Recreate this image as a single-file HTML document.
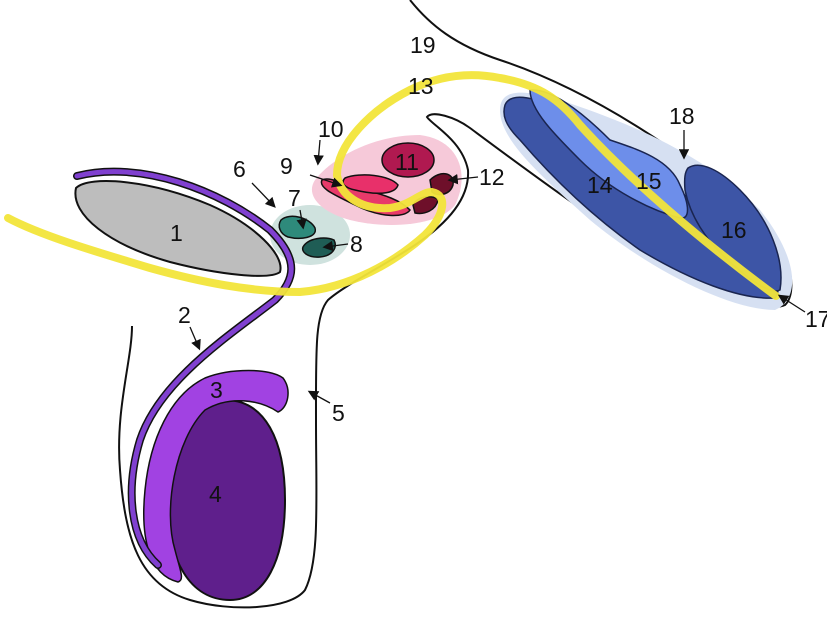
<!DOCTYPE html>
<html><head><style>
html,body{margin:0;padding:0;background:#fff;width:827px;height:620px;overflow:hidden}
svg text{font-family:"Liberation Sans",sans-serif;font-size:23px;fill:#111}
</style></head><body>
<svg width="827" height="620" viewBox="0 0 827 620" xmlns="http://www.w3.org/2000/svg">
<defs><marker id="a" markerWidth="8" markerHeight="8" refX="6" refY="4" orient="auto"><path d="M0,0 L8,4 L0,8z" fill="#111"/></marker></defs>
<rect width="827" height="620" fill="#fff"/>
<path d="M410,0 C430,25 455,45 500,60 C560,80 640,120 740,200 C790,240 800,290 785,305 C770,312 740,300 690,275 C620,240 540,180 470,128 C455,117 432,110 427,117 C432,125 462,140 468,170 C470,200 445,225 415,245 C385,265 345,285 328,300 C315,315 316,350 316,420 C316,500 320,560 305,590 C290,610 230,612 190,600 C140,585 125,540 120,470 C115,410 132,360 132,326" fill="none" stroke="#111" stroke-width="2"/>
<path d="M500,110 C500,90 520,88 560,100 C620,120 700,150 760,210 C800,260 800,300 775,310 C730,310 650,270 590,220 C540,175 500,140 500,110z" fill="#d6e0f2"/>
<ellipse cx="310" cy="235" rx="40" ry="30" fill="#cfe2de"/>
<path d="M315,180 C330,160 370,135 420,135 C460,140 470,175 455,205 C440,225 390,230 350,220 C320,212 305,195 315,180z" fill="#f6c9d9"/>
<path d="M505,105 C510,93 530,95 560,110 C610,135 680,190 740,240 C770,265 785,285 775,298 C740,300 690,280 640,250 C590,215 550,175 520,140 C505,125 502,115 505,105z" fill="#3d55a6" stroke="#1a2550" stroke-width="1.5"/>
<path d="M530,90 C550,88 580,110 610,140 C640,150 670,160 680,185 C690,205 690,220 680,218 C650,210 610,190 580,160 C555,135 530,110 530,90z" fill="#6d8eea" stroke="#1a2550" stroke-width="1.5"/>
<path d="M688,168 C700,160 720,170 740,190 C770,220 785,260 780,290 C770,295 750,280 730,262 C705,240 690,215 685,190 C684,178 685,172 688,168z" fill="#3d55a6" stroke="#1a2550" stroke-width="1.5"/>
<path d="M76,188 C90,175 150,180 210,205 C255,225 285,255 280,272 C270,280 220,275 170,262 C110,245 70,215 76,188z" fill="#bdbdbd" stroke="#111" stroke-width="2"/>
<path d="M225,400 C265,400 285,440 285,500 C285,560 265,600 230,600 C190,600 167,560 167,500 C167,440 185,400 225,400z" fill="#5f1f8c" stroke="#111" stroke-width="2"/>
<path d="M205,378 C230,368 270,368 283,378 C292,390 288,408 278,412 C260,400 230,395 205,410 C175,440 163,510 175,550 C180,570 185,580 178,582 C150,575 140,540 145,490 C150,440 170,395 205,378z" fill="#a142e2" stroke="#111" stroke-width="1.5"/>
<path d="M77,176 C140,160 220,190 270,230 C300,260 295,280 275,300 C230,335 160,380 140,440 C125,490 130,540 158,565" fill="none" stroke="#111" stroke-width="8" stroke-linecap="round"/>
<path d="M77,176 C140,160 220,190 270,230 C300,260 295,280 275,300 C230,335 160,380 140,440 C125,490 130,540 158,565" fill="none" stroke="#8040d0" stroke-width="5" stroke-linecap="round"/>
<path d="M281,220 C290,212 310,218 315,228 C318,238 300,240 288,237 C280,234 277,226 281,220z" fill="#2e8a7b" stroke="#111" stroke-width="1.5"/>
<path d="M303,247 C308,238 325,236 334,240 C338,248 332,256 320,257 C308,258 301,252 303,247z" fill="#1f5d55" stroke="#111" stroke-width="1.5"/>
<ellipse cx="408" cy="160" rx="26" ry="17" fill="#b01950" stroke="#111" stroke-width="1.5"/>
<path d="M322,180 C330,176 345,185 365,190 C385,195 400,200 410,210 C405,218 380,218 355,205 C335,195 318,188 322,180z" fill="#e83a6a" stroke="#111" stroke-width="1.5"/>
<path d="M345,178 C360,172 390,175 398,185 C395,195 375,195 355,190 C345,188 340,183 345,178z" fill="#e8306a" stroke="#111" stroke-width="1.5"/>
<path d="M430,180 C440,170 455,172 453,185 C450,195 438,197 432,192z" fill="#6e0f2a" stroke="#111" stroke-width="1.5"/>
<path d="M413,205 C418,195 435,195 438,200 C436,210 425,215 415,213z" fill="#6e0f2a" stroke="#111" stroke-width="1.5"/>
<path d="M8,218 C40,235 90,250 150,268 C200,282 250,292 300,292 C350,288 395,262 425,235 C445,215 448,195 432,192 C420,192 412,205 390,208 C360,210 340,195 337,175 C337,145 370,110 410,90 C440,75 470,72 500,78 C540,85 560,100 580,125 C630,180 700,240 776,296" fill="none" stroke="#f2e53a" stroke-width="8" stroke-linecap="round" opacity="0.95"/>
<g stroke="#111" stroke-width="1.3" fill="none">
<line x1="252" y1="183" x2="274" y2="206" marker-end="url(#a)"/>
<line x1="300" y1="210" x2="303" y2="227" marker-end="url(#a)"/>
<line x1="348" y1="244" x2="325" y2="247" marker-end="url(#a)"/>
<line x1="310" y1="175" x2="340" y2="185" marker-end="url(#a)"/>
<line x1="320" y1="140" x2="318" y2="163" marker-end="url(#a)"/>
<line x1="478" y1="177" x2="450" y2="180" marker-end="url(#a)"/>
<line x1="190" y1="327" x2="199" y2="348" marker-end="url(#a)"/>
<line x1="330" y1="403" x2="310" y2="392" marker-end="url(#a)"/>
<line x1="684" y1="130" x2="684" y2="157" marker-end="url(#a)"/>
<line x1="805" y1="312" x2="780" y2="296" marker-end="url(#a)"/>
</g>
<text x="410" y="53">19</text>
<text x="408" y="94">13</text>
<text x="318" y="137">10</text>
<text x="395" y="170">11</text>
<text x="479" y="185">12</text>
<text x="280" y="174">9</text>
<text x="233" y="177">6</text>
<text x="288" y="206">7</text>
<text x="350" y="252">8</text>
<text x="170" y="241">1</text>
<text x="178" y="323">2</text>
<text x="210" y="398">3</text>
<text x="209" y="502">4</text>
<text x="332" y="421">5</text>
<text x="587" y="193">14</text>
<text x="636" y="189">15</text>
<text x="721" y="238">16</text>
<text x="669" y="124">18</text>
<text x="805" y="327">17</text>
</svg>
</body></html>
